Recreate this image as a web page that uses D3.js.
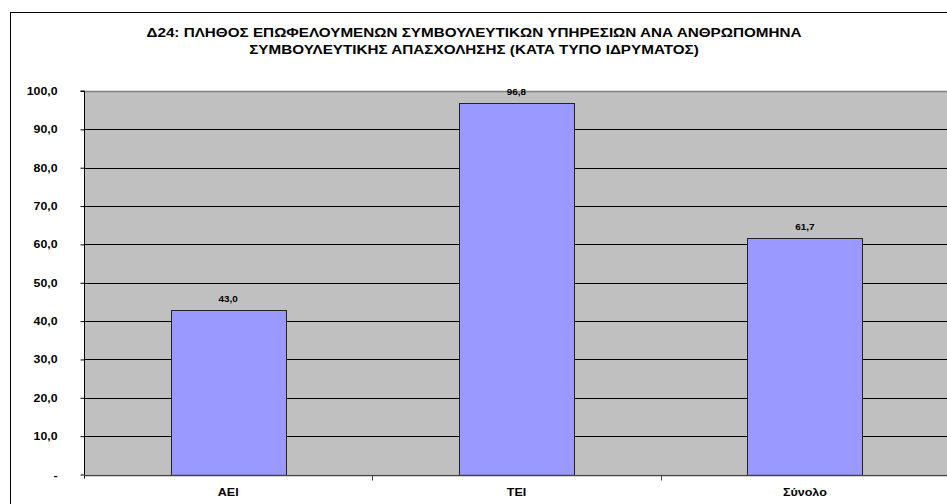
<!DOCTYPE html>
<html>
<head>
<meta charset="utf-8">
<script src="https://cdn.jsdelivr.net/npm/d3@7"></script>
<style>
  html, body { margin: 0; padding: 0; background: #fff; }
  svg { display: block; }
  text { font-family: "Liberation Sans", Arial, sans-serif; font-weight: bold; fill: #000; }
</style>
</head>
<body>
<svg id="chart" width="947" height="504"></svg>
<script>
const categories = ["ΑΕΙ", "ΤΕΙ", "Σύνολο"];
const values = [43.0, 96.8, 61.7];
const yTicks = [0, 10, 20, 30, 40, 50, 60, 70, 80, 90, 100];
const titleLines = [
  "Δ24: ΠΛΗΘΟΣ ΕΠΩΦΕΛΟΥΜΕΝΩΝ ΣΥΜΒΟΥΛΕΥΤΙΚΩΝ ΥΠΗΡΕΣΙΩΝ ΑΝΑ ΑΝΘΡΩΠΟΜΗΝΑ",
  "ΣΥΜΒΟΥΛΕΥΤΙΚΗΣ ΑΠΑΣΧΟΛΗΣΗΣ (ΚΑΤΑ ΤΥΠΟ ΙΔΡΥΜΑΤΟΣ)"
];

const svg = d3.select("#chart");
const W = 947, H = 504;
const plot = { left: 84, right: 949, top: 91, bottom: 474.5 };

const fmt = v => v === 0 ? "-" : d3.format(".1f")(v).replace(".", ",");

// outer chart border
svg.append("rect")
  .attr("x", 10.5).attr("y", 12.5)
  .attr("width", W + 10).attr("height", H + 10)
  .attr("fill", "#fff").attr("stroke", "#000").attr("stroke-width", 1);

// title
svg.append("g").selectAll("text").data(titleLines).join("text")
  .attr("transform", (d, i) => `translate(474,${37 + i * 17}) scale(1.22,1)`)
  .attr("text-anchor", "middle")
  .style("font-size", "12.5px")
  .text(d => d);

const x = d3.scaleBand().domain(categories).range([plot.left, plot.right]).paddingInner(0).paddingOuter(0);
const y = d3.scaleLinear().domain([0, 100]).range([plot.bottom, plot.top]);

// plot area background
svg.append("rect")
  .attr("x", plot.left).attr("y", plot.top)
  .attr("width", plot.right - plot.left).attr("height", plot.bottom - plot.top)
  .attr("fill", "#C0C0C0");

// gridlines
svg.append("g").selectAll("line").data(yTicks.filter(t => t > 0 && t < 100)).join("line")
  .attr("x1", plot.left).attr("x2", plot.right)
  .attr("y1", d => Math.round(y(d)) + 0.5).attr("y2", d => Math.round(y(d)) + 0.5)
  .attr("stroke", "#000").attr("stroke-width", 1);

// top border of plot (gray)
svg.append("line")
  .attr("x1", plot.left).attr("x2", plot.right)
  .attr("y1", Math.round(y(100)) + 0.5).attr("y2", Math.round(y(100)) + 0.5)
  .attr("stroke", "#808080").attr("stroke-width", 1.5);

// bars
const bw = x.bandwidth() / 2.5;
svg.append("g").selectAll("rect").data(values).join("rect")
  .attr("x", (d, i) => Math.round(x(categories[i]) + (x.bandwidth() - bw) / 2) + 0.5)
  .attr("y", d => Math.round(y(d)) + 0.5)
  .attr("width", Math.round(bw))
  .attr("height", d => Math.round(y(0)) - Math.round(y(d)))
  .attr("fill", "#9999FF")
  .attr("stroke", "#222").attr("stroke-width", 1);

// data labels
svg.append("g").selectAll("text").data(values).join("text")
  .attr("transform", (d, i) => `translate(${x(categories[i]) + x.bandwidth() / 2},${y(d) - 8}) scale(1.1,1)`)
  .attr("text-anchor", "middle")
  .style("font-size", "9px")
  .text(d => fmt(d));

// y axis
const yAxis = d3.axisLeft(y).tickValues(yTicks).tickSize(4).tickPadding(22).tickFormat(fmt);
const gy = svg.append("g").attr("transform", `translate(${plot.left + 0.5},0)`).call(yAxis);
gy.select(".domain").attr("stroke", "#000").attr("d", `M-4,${plot.top}H0V${plot.bottom + 4}`);
gy.selectAll(".tick line").attr("stroke", "#000");
gy.selectAll(".tick text")
  .attr("text-anchor", "end").attr("x", 0)
  .attr("transform", "translate(-27,0) scale(1.12,1)")
  .style("font-size", "11px").style("font-family", "'Liberation Sans', Arial, sans-serif").style("font-weight", "bold");

// x axis
const gx = svg.append("g").attr("transform", `translate(0,${Math.round(plot.bottom) + 0.5})`);
gx.append("line").attr("x1", plot.left).attr("x2", plot.right).attr("stroke", "#444").attr("stroke-width", 1.5);
gx.selectAll("line.sep").data(categories.slice(1)).join("line").attr("class", "sep")
  .attr("x1", d => Math.round(x(d)) + 0.5).attr("x2", d => Math.round(x(d)) + 0.5)
  .attr("y1", 0).attr("y2", 5).attr("stroke", "#444");
gx.selectAll("text").data(categories).join("text")
  .attr("transform", d => `translate(${x(d) + x.bandwidth() / 2},20) scale(1.14,1)`)
  .attr("text-anchor", "middle")
  .style("font-size", "11px")
  .text(d => d);
</script>
</body>
</html>
